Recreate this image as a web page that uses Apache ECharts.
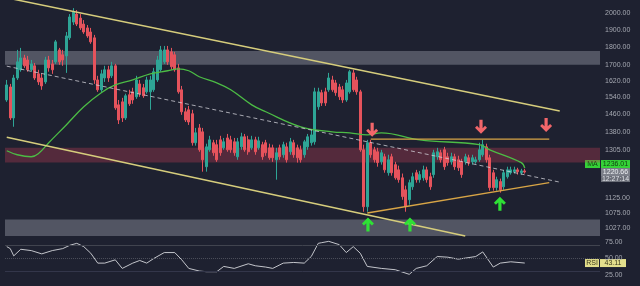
<!DOCTYPE html>
<html>
<head>
<meta charset="utf-8">
<script src="https://cdn.jsdelivr.net/npm/echarts@6/dist/echarts.min.js"></script>
<style>
  html, body { margin: 0; padding: 0; background: #1e2130; }
  #chart { width: 640px; height: 286px; }
</style>
</head>
<body>
<div id="chart"></div>
<script>
// Daily bars: [open, close, low, high]
const ohlc = [
  [1527,1600,1518,1625],[1590,1444,1435,1605],[1444,1635,1405,1651],[1635,1719,1625,1784],[1677,1740,1667,1795],
  [1740,1698,1687,1757],[1729,1677,1667,1751],[1677,1708,1667,1729],[1698,1635,1625,1713],[1656,1615,1600,1677],
  [1635,1595,1576,1656],[1615,1729,1605,1746],[1729,1687,1667,1751],[1708,1677,1656,1729],[1719,1829,1708,1840],
  [1784,1719,1703,1795],[1757,1729,1698,1784],[1751,1863,1661,1886],[1852,1976,1840,1994],[1945,2007,1927,2031],
  [1994,1933,1921,2019],[1969,1910,1898,1994],[1933,1886,1875,1957],[1910,1863,1852,1927],[1886,1829,1818,1910],
  [1852,1625,1605,1869],[1625,1576,1566,1646],[1576,1656,1566,1677],[1635,1677,1615,1698],[1677,1635,1615,1698],
  [1646,1698,1635,1719],[1698,1490,1481,1708],[1504,1435,1417,1527],[1518,1444,1426,1537],[1444,1547,1435,1557],
  [1552,1509,1499,1576],[1566,1527,1509,1586],[1542,1625,1532,1646],[1605,1557,1542,1625],[1586,1547,1537,1605],
  [1566,1625,1557,1641],[1566,1625,1481,1646],[1576,1667,1566,1687],[1625,1729,1615,1751],[1677,1784,1667,1806],
  [1719,1784,1708,1806],[1784,1719,1703,1806],[1773,1693,1677,1795],[1757,1677,1667,1773],[1687,1566,1557,1708],
  [1576,1472,1458,1595],[1472,1435,1426,1490],[1481,1426,1413,1499],[1463,1337,1325,1481],[1337,1379,1325,1400],
  [1400,1308,1300,1417],[1383,1268,1222,1400],[1241,1320,1222,1333],[1308,1349,1300,1366],[1337,1296,1284,1349],
  [1329,1268,1260,1349],[1349,1296,1284,1366],[1316,1341,1308,1357],[1357,1308,1300,1374],[1349,1308,1296,1366],
  [1341,1296,1284,1357],[1280,1341,1268,1357],[1320,1362,1308,1379],[1362,1308,1300,1374],[1349,1300,1288,1366],
  [1316,1349,1308,1366],[1349,1300,1288,1362],[1316,1345,1308,1362],[1329,1280,1268,1341],[1337,1296,1284,1349],
  [1316,1276,1268,1333],[1316,1276,1260,1329],[1268,1296,1192,1316],[1316,1280,1268,1329],[1288,1329,1276,1341],
  [1320,1268,1257,1337],[1300,1341,1288,1357],[1337,1288,1276,1349],[1316,1276,1257,1329],[1308,1268,1257,1325],
  [1288,1341,1276,1349],[1320,1362,1308,1374],[1337,1370,1325,1392],[1341,1566,1329,1586],[1495,1566,1481,1586],
  [1562,1513,1499,1576],[1566,1513,1499,1586],[1576,1635,1566,1661],[1625,1576,1566,1646],[1610,1562,1547,1625],
  [1590,1542,1527,1605],[1576,1527,1513,1595],[1527,1610,1518,1625],[1566,1667,1557,1677],[1661,1576,1566,1677],
  [1625,1566,1552,1641],[1566,1308,1300,1576],[1308,1096,1079,1329],[1096,1337,1079,1349],[1337,1288,1276,1349],
  [1308,1268,1257,1320],[1300,1257,1241,1316],[1260,1296,1249,1308],[1280,1229,1218,1292],[1218,1268,1207,1288],
  [1280,1218,1207,1292],[1249,1199,1192,1260],[1229,1192,1181,1245],[1199,1131,1120,1215],[1155,1096,1079,1170],
  [1120,1181,1103,1192],[1166,1203,1155,1218],[1218,1192,1181,1229],[1192,1211,1181,1225],[1199,1229,1188,1245],
  [1229,1192,1181,1241],[1203,1166,1155,1218],[1211,1296,1199,1308],[1280,1300,1268,1316],[1296,1268,1257,1308],
  [1308,1241,1229,1320],[1280,1257,1245,1296],[1260,1280,1249,1296],[1280,1241,1229,1292],[1268,1237,1225,1284],
  [1260,1211,1199,1272],[1260,1280,1249,1292],[1276,1257,1245,1288],[1260,1276,1249,1288],[1260,1268,1253,1280],
  [1268,1308,1260,1337],[1288,1329,1280,1349],[1320,1268,1257,1333],[1276,1163,1152,1288],[1218,1163,1152,1229],
  [1163,1192,1152,1203],[1185,1155,1145,1196],[1166,1218,1155,1229],[1203,1229,1196,1241],[1218,1229,1211,1241],
  [1222,1229,1215,1241],[1229,1222,1211,1237],[1218,1225,1211,1233],[1225,1220.66,1215,1233]
];

// Moving average: [bar index, value]
const maPoints = [
  [0,1304],[3,1288],[7,1280],[9,1292],[12,1337],[17,1413],[22,1495],[27,1562],[31,1600],[36,1625],
  [41,1656],[46,1672],[49,1682],[52,1672],[55,1641],[60,1610],[64,1576],[70,1504],[74,1472],[84,1405],
  [93,1383],[98,1379],[103,1370],[107,1379],[118,1349],[135,1329],[138,1308],[147,1257],[148,1236.01]
];

// RSI(14): [bar index, value]
const rsiPoints = [
  [0,68],[1,65],[2,54],[4,64],[7,62],[10,57],[13,62],[16,65],[18,70],[20,73],[22,68],[24,58],[26,43],
  [28,43],[31,48],[33,35],[36,43],[38,47],[40,43],[42,50],[45,59],[48,59],[50,48],[52,35],[55,31],
  [57,30],[60,30],[62,38],[65,35],[69,42],[71,39],[74,37],[76,35],[79,43],[82,44],[85,43],[87,53],
  [89,73],[90,74],[92,76],[95,71],[97,59],[99,68],[101,58],[103,38],[107,35],[111,33],[115,26],
  [117,35],[120,39],[123,53],[126,52],[129,49],[134,53],[136,60],[139,37],[141,43],[144,45],[148,43.11]
];

// Drawn levels and trend lines: [bar index, price]
const channelTop = [[0,2097],[158,1476]];
const channelBottom = [[0,1360],[131,1001]];
const midTrend = [[0,1696],[158,1183]];
const resistance = [[104,1352],[155,1352]];
const risingSupport = [[103,1075],[155,1181]];

// Horizontal zones: [lower price, upper price]
const supplyZone = [1703, 1778];
const pivotZone = [1257, 1316];
const demandZone = [1001, 1053];

// Signal markers: [bar index, price]
const buySignals = [[103.2,1037],[115.2,1037],[140.9,1106]];
const sellSignals = [[104.4,1392],[135.5,1405],[154.1,1413]];

// Axis ticks
const priceTicks = [2000,1900,1800,1700,1620,1540,1460,1380,1305,1125,1075,1027];
const rsiTicks = [25,50,75];
const priceRange = [997.6, 2083];
const rsiRange = [8.3, 82.6];
const rsiLevels = [70, 50, 30];

const slots = 170;
const countdown = '12:27:14';
const slotLabels = Array.from({length: slots}, (_, i) => String(i + 1));

const UP = '#2ea596', DOWN = '#e5535c';
const labelFont = '"Liberation Sans", Arial, sans-serif';

const chart = echarts.init(document.getElementById('chart'), null, {renderer: 'canvas'});

function trend(data, color, width, type) {
  return {
    type: 'line', xAxisIndex: 1, yAxisIndex: 0, data: data,
    showSymbol: false, silent: true, z: 5,
    lineStyle: {color: color, width: width, type: type || 'solid'}
  };
}

const arrowPath = 'path://M6,0 L12,6 L10,8 L7.6,5.6 L7.6,14 L4.4,14 L4.4,5.6 L2,8 L0,6 Z';

const option = {
  backgroundColor: '#1e2130',
  animation: false,
  grid: [
    {left: 5, right: 40, top: 0, height: 237},
    {left: 5, right: 40, top: 237, bottom: 0}
  ],
  xAxis: [
    {type: 'category', gridIndex: 0, data: slotLabels, boundaryGap: true, show: false},
    {type: 'value', gridIndex: 0, min: -0.5, max: slots - 0.5, show: false},
    {type: 'value', gridIndex: 1, min: -0.5, max: slots - 0.5, show: false}
  ],
  yAxis: [
    {
      type: 'log', gridIndex: 0, position: 'right', min: priceRange[0], max: priceRange[1],
      axisLine: {show: false}, axisTick: {show: false}, splitLine: {show: false},
      axisLabel: {customValues: priceTicks, formatter: v => Number(v).toFixed(2),
        color: '#a5a8b1', fontSize: 7, fontFamily: labelFont, margin: 5}
    },
    {
      type: 'value', gridIndex: 1, position: 'right', min: rsiRange[0], max: rsiRange[1],
      axisLine: {show: false}, axisTick: {show: false}, splitLine: {show: false},
      axisLabel: {customValues: rsiTicks, formatter: v => Number(v).toFixed(2),
        color: '#a5a8b1', fontSize: 7, fontFamily: labelFont, margin: 5}
    }
  ],
  series: [
    {
      type: 'candlestick', xAxisIndex: 0, yAxisIndex: 0, data: ohlc, barWidth: 2.8, z: 2,
      itemStyle: {color: UP, color0: DOWN, borderColor: UP, borderColor0: DOWN, borderWidth: 1}
    },
    {
      type: 'line', xAxisIndex: 1, yAxisIndex: 0, data: [], silent: true, z: 3,
      markArea: {
        silent: true,
        data: [
          [{yAxis: supplyZone[0], itemStyle: {color: 'rgba(175,178,192,0.36)'}}, {yAxis: supplyZone[1]}],
          [{yAxis: pivotZone[0], itemStyle: {color: 'rgba(190,62,86,0.34)'}}, {yAxis: pivotZone[1]}],
          [{yAxis: demandZone[0], itemStyle: {color: 'rgba(175,178,192,0.36)'}}, {yAxis: demandZone[1]}]
        ]
      }
    },
    {
      type: 'line', xAxisIndex: 1, yAxisIndex: 0, data: maPoints, smooth: 0.4,
      showSymbol: false, silent: true, z: 4,
      lineStyle: {color: '#4cbc45', width: 1.3}
    },
    trend(midTrend, 'rgba(215,215,222,0.75)', 1, [4, 3]),
    trend(channelTop, '#d6cd7c', 1.5),
    trend(channelBottom, '#d6cd7c', 1.5),
    trend(resistance, '#d8a546', 1.4),
    trend(risingSupport, '#d8a546', 1.4),
    {
      type: 'scatter', xAxisIndex: 1, yAxisIndex: 0, data: buySignals, silent: true, z: 8,
      symbol: arrowPath, symbolSize: [12, 14], itemStyle: {color: '#2ee035', opacity: 1}
    },
    {
      type: 'scatter', xAxisIndex: 1, yAxisIndex: 0, data: sellSignals, silent: true, z: 8,
      symbol: arrowPath, symbolSize: [12, 14], symbolRotate: 180, itemStyle: {color: '#f2666a', opacity: 1}
    },
    {
      type: 'line', xAxisIndex: 2, yAxisIndex: 1, data: rsiPoints, showSymbol: false, silent: true, z: 4,
      lineStyle: {color: '#c3c5cb', width: 1},
      markLine: {
        silent: true, symbol: 'none', label: {show: false},
        data: [
          {yAxis: rsiLevels[0], lineStyle: {color: '#41444f', width: 1, type: 'solid'}},
          {yAxis: rsiLevels[1], lineStyle: {color: '#4a4d59', width: 1, type: 'dotted'}},
          {yAxis: rsiLevels[2], lineStyle: {color: '#33364a', width: 1, type: 'solid'}}
        ]
      }
    }
  ]
};

chart.setOption(option);

// Value tags on the price scale, placed through the axes' own scales
const lastClose = ohlc[ohlc.length - 1][1];
const lastMA = maPoints[maPoints.length - 1][1];
const lastRSI = rsiPoints[rsiPoints.length - 1][1];

const yClose = chart.convertToPixel({yAxisIndex: 0}, lastClose);
const yMA = Math.min(chart.convertToPixel({yAxisIndex: 0}, lastMA), yClose - 8);
const yRSI = chart.convertToPixel({yAxisIndex: 1}, lastRSI);

function tag(x, w, yc, h, text, fill, color) {
  return {
    type: 'group', z: 100, silent: true,
    children: [
      {type: 'rect', shape: {x: x, y: yc - h / 2, width: w, height: h}, style: {fill: fill}},
      {type: 'text', style: {x: x + w / 2, y: yc, text: text, fill: color,
        font: '7px ' + labelFont, align: 'center', verticalAlign: 'middle'}}
    ]
  };
}

chart.setOption({
  graphic: [
    tag(585, 15, yMA, 8, 'MA', '#35d237', '#0f3d10'),
    tag(601, 29, yMA, 8, lastMA.toFixed(2), '#35d237', '#0f3d10'),
    tag(601, 29, yClose, 8, lastClose.toFixed(2), '#7c7f89', '#eceef2'),
    tag(601, 29, yClose + 7, 6, countdown, '#6c6f79', '#dfe1e6'),
    tag(585, 14, yRSI, 8, 'RSI', '#e3df8c', '#3a381a'),
    tag(600, 26, yRSI, 8, lastRSI.toFixed(2), '#e3df8c', '#3a381a')
  ]
});
</script>
</body>
</html>
